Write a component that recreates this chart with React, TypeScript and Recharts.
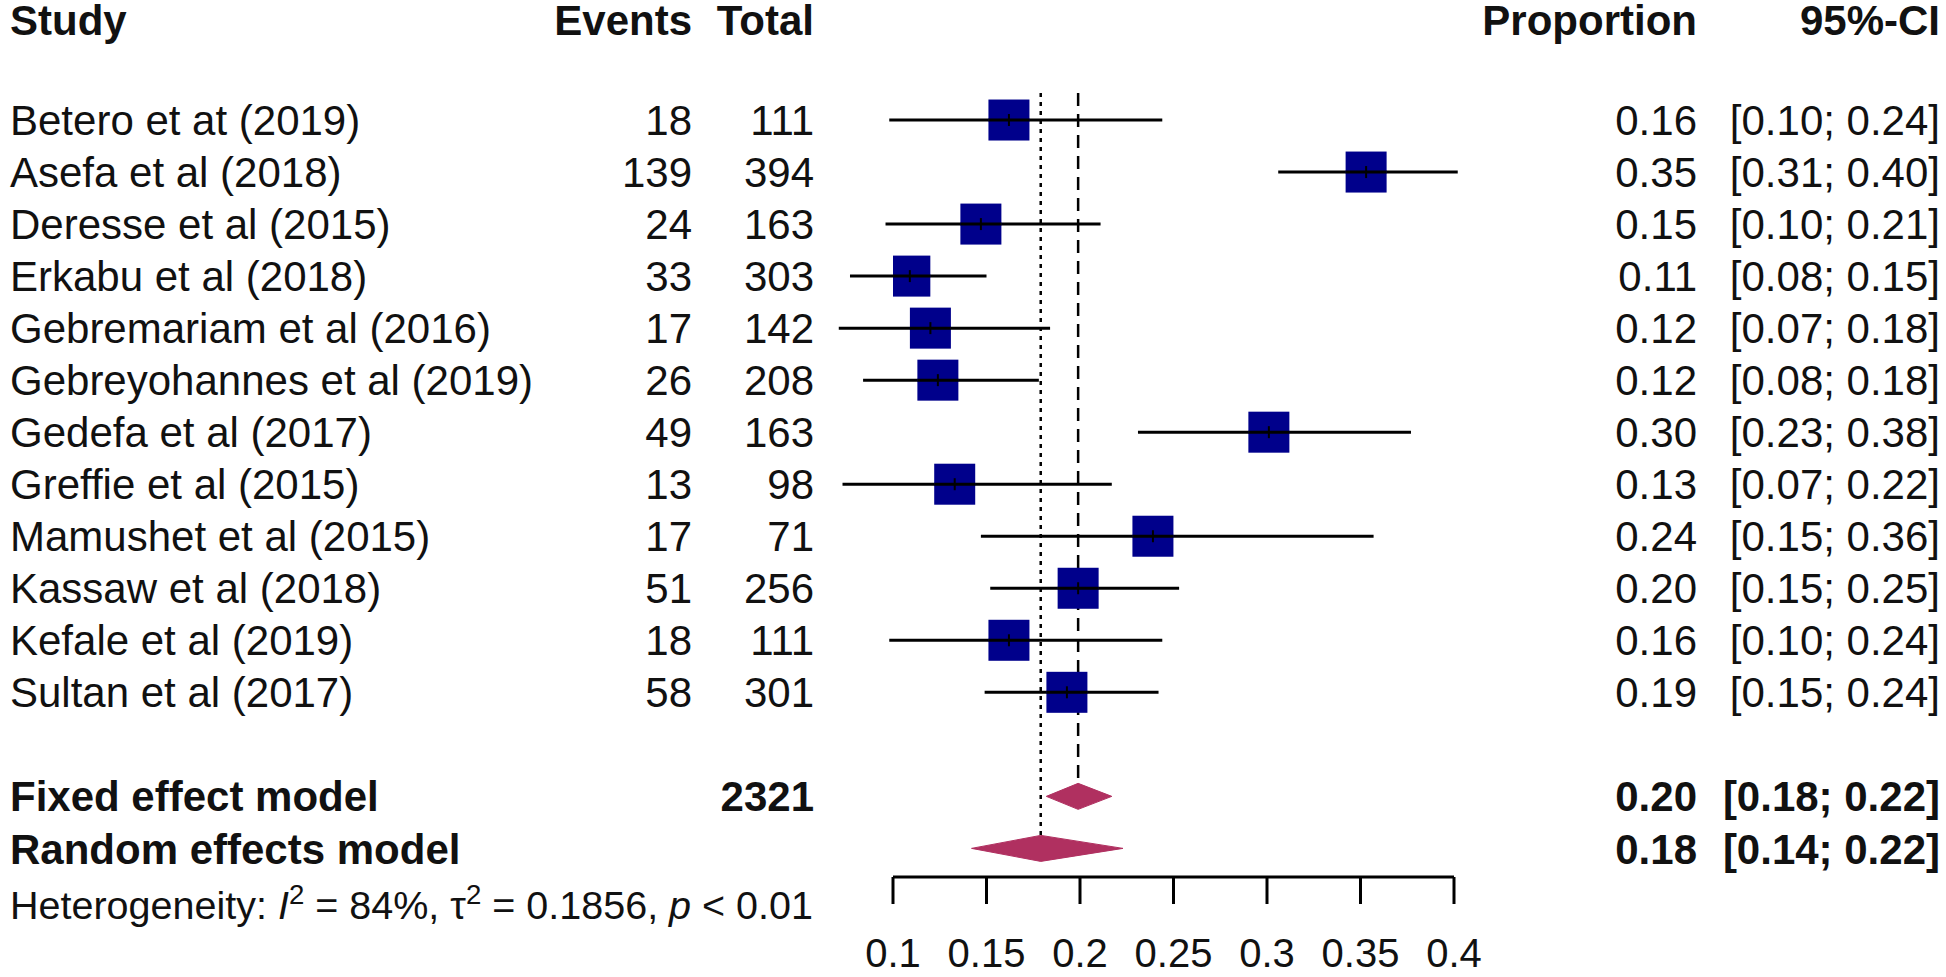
import React from 'react';
import { ComposedChart, Scatter, Area, XAxis, YAxis, ReferenceLine } from 'recharts';

// study rows, top to bottom
const studies = [
  'Betero et at (2019)',
  'Asefa et al (2018)',
  'Deresse et al (2015)',
  'Erkabu et al (2018)',
  'Gebremariam et al (2016)',
  'Gebreyohannes et al (2019)',
  'Gedefa et al (2017)',
  'Greffie et al (2015)',
  'Mamushet et al (2015)',
  'Kassaw et al (2018)',
  'Kefale et al (2019)',
  'Sultan et al (2017)',
];
const events = [18, 139, 24, 33, 17, 26, 49, 13, 17, 51, 18, 58];
const totals = [111, 394, 163, 303, 142, 208, 163, 98, 71, 256, 111, 301];
const proportions = [0.162, 0.353, 0.147, 0.109, 0.12, 0.124, 0.301, 0.133, 0.239, 0.199, 0.162, 0.193];
const ciLower = [0.098, 0.306, 0.096, 0.077, 0.071, 0.084, 0.231, 0.073, 0.147, 0.152, 0.098, 0.149];
const ciUpper = [0.244, 0.402, 0.211, 0.15, 0.184, 0.178, 0.377, 0.217, 0.357, 0.253, 0.244, 0.242];

// pooled estimates
const pooledNames = ['Fixed effect model', 'Random effects model'];
const pooledKeys = ['fixedBand', 'randomBand'];
const pooledEst = [0.199, 0.179];
const pooledLower = [0.182, 0.142];
const pooledUpper = [0.217, 0.223];

const xTicks = [0.1, 0.15, 0.2, 0.25, 0.3, 0.35, 0.4];
const hetI2 = 84;
const hetTau2 = 0.1856;
const hetP = '< 0.01';

const FONT = '"Liberation Sans", Arial, Helvetica, sans-serif';
const TEXT = '#111';
const SQUARE = '#00008B';
const DIAMOND = '#B03060';
const POOLED_ROW = studies.length + 1; // one blank row after the studies
const HALF_H = 0.25; // diamond half height in rows

const studyPoints = studies.map((_, i) => ({ x: proportions[i], row: i }));

const diamondData = pooledNames.flatMap((_, j) => {
  const row = POOLED_ROW + j;
  const key = pooledKeys[j];
  return [
    { x: pooledLower[j], [key]: [row, row] },
    { x: pooledEst[j], [key]: [row - HALF_H, row + HALF_H] },
    { x: pooledUpper[j], [key]: [row, row] },
  ];
});

const rowTicks = [...studies.map((_, i) => i), POOLED_ROW, POOLED_ROW + 1];

const COL_EVENTS = 692;
const COL_TOTAL = 814;
const COL_PROP = 1697;
const COL_CI = 1940;

const fmt = (v: number) => v.toFixed(2);

const RowTick: React.FC<any> = ({ y, payload }) => {
  const r = payload.value as number;
  const base = { fontFamily: FONT, fontSize: 42, fill: TEXT, dy: '0.36em' } as any;
  if (r < studies.length) {
    return (
      <g>
        <text x={10} y={y} {...base}>{studies[r]}</text>
        <text x={COL_EVENTS} y={y} textAnchor="end" {...base}>{events[r]}</text>
        <text x={COL_TOTAL} y={y} textAnchor="end" {...base}>{totals[r]}</text>
        <text x={COL_PROP} y={y} textAnchor="end" {...base}>{fmt(proportions[r])}</text>
        <text x={COL_CI} y={y} textAnchor="end" {...base}>{`[${fmt(ciLower[r])}; ${fmt(ciUpper[r])}]`}</text>
      </g>
    );
  }
  const j = r - POOLED_ROW;
  const bold = { ...base, fontWeight: 700 };
  return (
    <g>
      <text x={10} y={y} {...bold}>{pooledNames[j]}</text>
      {j === 0 && (
        <text x={COL_TOTAL} y={y} textAnchor="end" {...bold}>{totals.reduce((a, b) => a + b, 0)}</text>
      )}
      <text x={COL_PROP} y={y} textAnchor="end" {...bold}>{fmt(pooledEst[j])}</text>
      <text x={COL_CI} y={y} textAnchor="end" {...bold}>{`[${fmt(pooledLower[j])}; ${fmt(pooledUpper[j])}]`}</text>
    </g>
  );
};

const SquareShape = (p: any) => {
  const s = 41;
  return (
    <g>
      <rect x={p.cx - s / 2} y={p.cy - s / 2} width={s} height={s} fill={SQUARE} />
      <line x1={p.cx - s / 2} x2={p.cx + s / 2} y1={p.cy} y2={p.cy} stroke="#000" strokeWidth={3} />
      <line x1={p.cx} x2={p.cx} y1={p.cy - 6} y2={p.cy + 6} stroke="#000" strokeWidth={2} />
    </g>
  );
};

const headerStyle: React.CSSProperties = {
  position: 'absolute',
  top: 0,
  fontFamily: FONT,
  fontSize: 42,
  lineHeight: '42px',
  fontWeight: 700,
  color: TEXT,
  whiteSpace: 'nowrap',
};

const supStyle: React.CSSProperties = { fontSize: '0.7em', position: 'relative', top: '-0.55em', lineHeight: 0 };

export default function App() {
  return (
    <div style={{ position: 'absolute', left: 0, top: 0, width: 1946, height: 977, background: '#fff' }}>
      <div style={{ ...headerStyle, left: 10 }}>Study</div>
      <div style={{ ...headerStyle, left: 0, width: COL_EVENTS, textAlign: 'right' }}>Events</div>
      <div style={{ ...headerStyle, left: 0, width: COL_TOTAL, textAlign: 'right' }}>Total</div>
      <div style={{ ...headerStyle, left: 0, width: COL_PROP, textAlign: 'right' }}>Proportion</div>
      <div style={{ ...headerStyle, left: 0, width: COL_CI, textAlign: 'right' }}>95%-CI</div>

      <ComposedChart
        width={1946}
        height={977}
        data={diamondData}
        margin={{ top: 68, right: 492, bottom: 0, left: 0 }}
        style={{ position: 'absolute', left: 0, top: 0 }}
      >
        <XAxis
          type="number"
          dataKey="x"
          domain={[0.1, 0.4]}
          allowDataOverflow
          ticks={xTicks}
          interval={0}
          height={100}
          tickSize={27}
          tickMargin={35}
          axisLine={{ stroke: '#000', strokeWidth: 3 }}
          tickLine={{ stroke: '#000', strokeWidth: 3 }}
          tick={{ fill: TEXT, fontSize: 40, fontFamily: FONT }}
          tickFormatter={(v: number) => String(v)}
        />
        <YAxis
          type="number"
          dataKey="row"
          reversed
          domain={[-1, 14.55]}
          allowDataOverflow
          ticks={rowTicks}
          interval={0}
          width={893}
          axisLine={false}
          tickLine={false}
          tick={<RowTick />}
        />
        <ReferenceLine
          segment={[{ x: pooledEst[0], y: -0.52 }, { x: pooledEst[0], y: POOLED_ROW - HALF_H }]}
          stroke="#000"
          strokeWidth={2.5}
          strokeDasharray="13 8"
          ifOverflow="visible"
        />
        <ReferenceLine
          segment={[{ x: pooledEst[1], y: -0.52 }, { x: pooledEst[1], y: POOLED_ROW + 1 - HALF_H }]}
          stroke="#000"
          strokeWidth={2.5}
          strokeDasharray="4 5"
          ifOverflow="visible"
        />
        {studies.map((s, i) => (
          <ReferenceLine
            key={s}
            segment={[{ x: ciLower[i], y: i }, { x: ciUpper[i], y: i }]}
            stroke="#000"
            strokeWidth={3}
            ifOverflow="visible"
          />
        ))}
        <Scatter data={studyPoints} dataKey="row" shape={SquareShape} isAnimationActive={false} />
        {pooledKeys.map((k) => (
          <Area
            key={k}
            type="linear"
            dataKey={k}
            stroke={DIAMOND}
            strokeWidth={1}
            fill={DIAMOND}
            fillOpacity={1}
            dot={false}
            activeDot={false}
            isAnimationActive={false}
          />
        ))}
      </ComposedChart>

      <div
        style={{
          position: 'absolute',
          left: 10,
          top: 886,
          fontFamily: FONT,
          fontSize: 39.5,
          lineHeight: '39px',
          color: TEXT,
          whiteSpace: 'nowrap',
        }}
      >
        Heterogeneity: <i>I</i>
        <span style={supStyle}>2</span> = {hetI2}%, τ<span style={supStyle}>2</span> = {hetTau2}, <i>p</i> {hetP}
      </div>
    </div>
  );
}
